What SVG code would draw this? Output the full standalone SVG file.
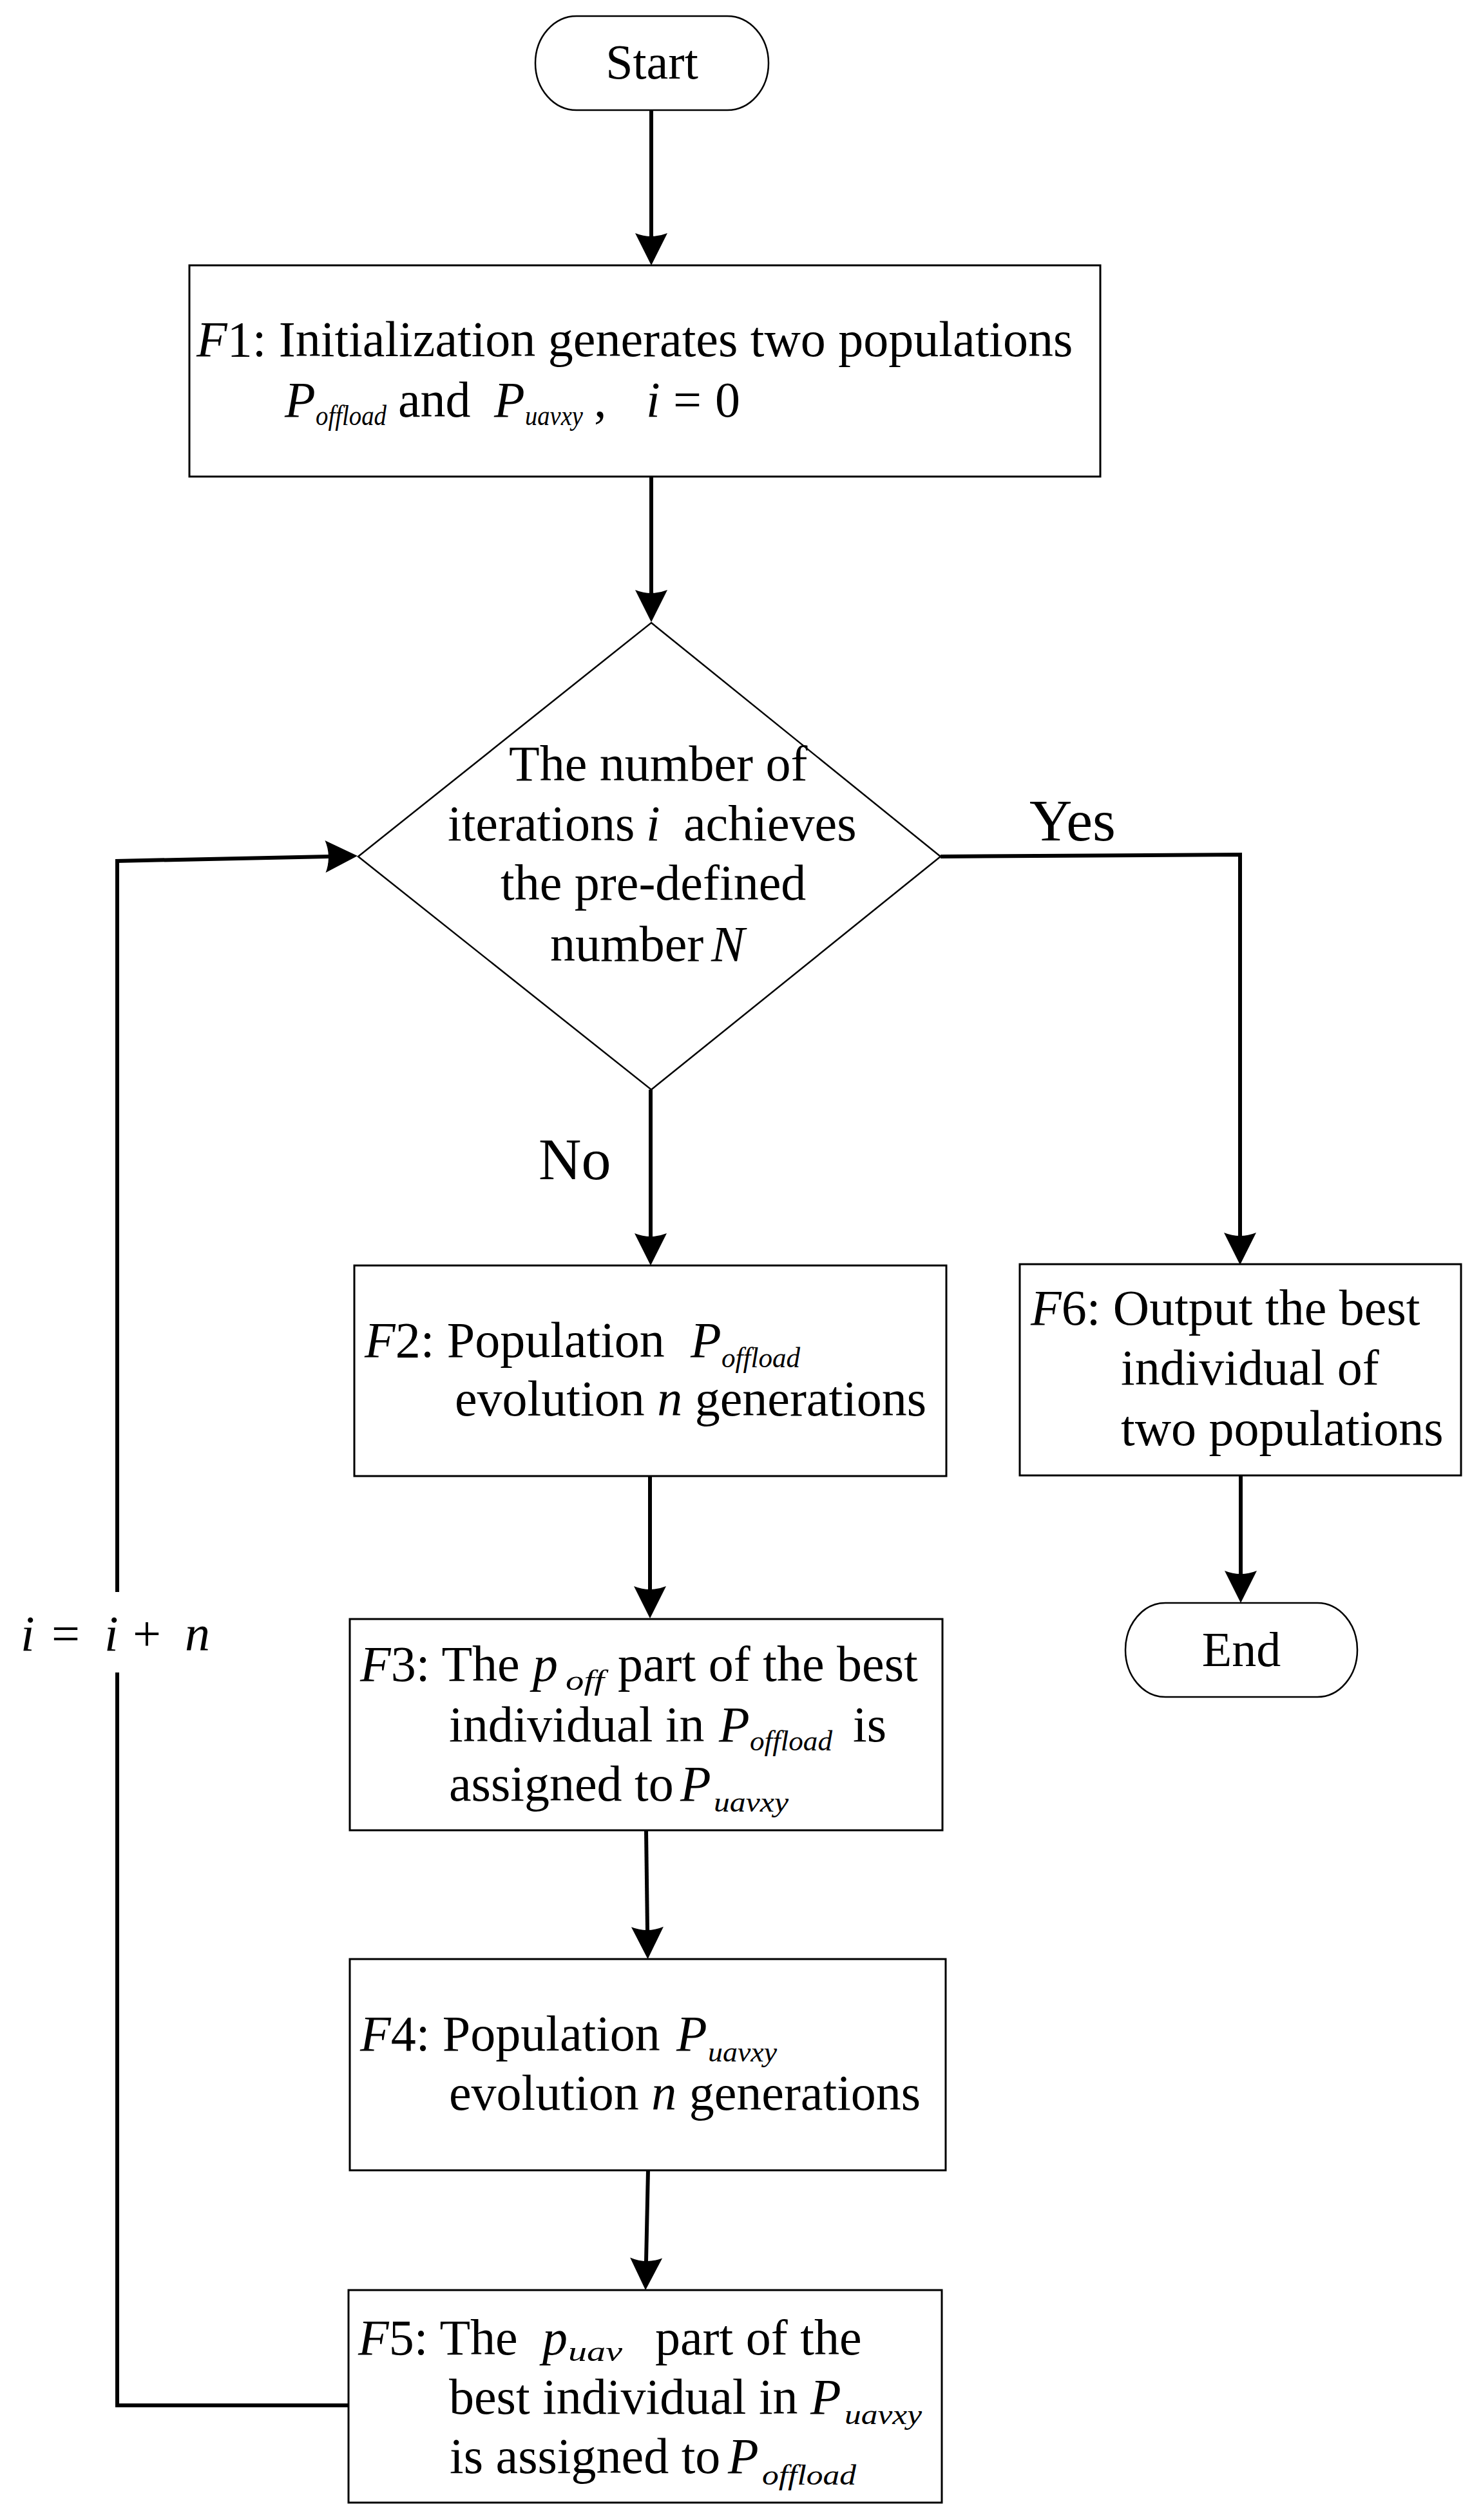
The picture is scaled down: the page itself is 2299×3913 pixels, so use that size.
<svg xmlns="http://www.w3.org/2000/svg" width="2299" height="3913" viewBox="0 0 2299 3913">
<defs>
<style>
text{font-family:"Liberation Serif","Times New Roman",serif;font-size:78px;fill:#000}
.it{font-style:italic}
.sub{font-style:italic;font-size:44px}
.box{fill:#fff;stroke:#000;stroke-width:3}
.dia{fill:#fff;stroke:#000;stroke-width:2.5}
.conn{fill:none;stroke:#000;stroke-width:6}
.lbl{font-size:92px}
.term{font-size:76px}
</style>
<marker id="ah" markerUnits="userSpaceOnUse" markerWidth="60" markerHeight="60" viewBox="-10 -30 60 60" refX="0" refY="0" orient="auto" overflow="visible">
<path d="M45,0 L-5,-25 Q5,0 -5,25 Z" fill="#000"/>
</marker>
</defs>
<rect width="2299" height="3913" fill="#fff"/>

<g id="connectors">
<line class="conn" x1="1011" y1="170" x2="1011" y2="367" marker-end="url(#ah)"/>
<line class="conn" x1="1011" y1="740" x2="1011" y2="921" marker-end="url(#ah)"/>
<line class="conn" x1="1010" y1="1692" x2="1010" y2="1920" marker-end="url(#ah)"/>
<path class="conn" d="M1460,1330 L1925,1327 L1925,1919" marker-end="url(#ah)"/>
<line class="conn" x1="1009" y1="2292" x2="1009" y2="2468" marker-end="url(#ah)"/>
<line class="conn" x1="1003" y1="2842" x2="1005" y2="2997" marker-end="url(#ah)"/>
<line class="conn" x1="1006" y1="3370" x2="1003" y2="3511" marker-end="url(#ah)"/>
<line class="conn" x1="1926" y1="2291" x2="1926" y2="2444" marker-end="url(#ah)"/>
<path class="conn" d="M541,3735 L182,3735 L182,2597"/>
<path class="conn" d="M182,2472 L182,1337"/>
<path class="conn" d="M179,1337 L510,1330" marker-end="url(#ah)"/>
<text class="lbl" x="1598" y="1305">Yes</text>
<text class="lbl" x="836" y="1831">No</text>
<g id="loop-label">
<text class="it" x="32" y="2563" font-size="106">i</text>
<text x="80" y="2563" font-size="106">=</text>
<text class="it" x="162" y="2563" font-size="106">i</text>
<text x="206" y="2563" font-size="106">+</text>
<text class="it" x="287" y="2563" font-size="106">n</text>
</g>
</g>

<g id="start">
<rect class="dia" x="831" y="25" width="362" height="146" rx="64" ry="73"/>
<text class="term" x="1012" y="122" text-anchor="middle">Start</text>
</g>

<g id="F1">
<rect class="box" x="294" y="412" width="1414" height="328"/>
<text x="305" y="553"><tspan class="it">F</tspan>1: Initialization generates two populations</text>
<text class="it" x="442" y="647">P</text>
<text class="sub" x="490" y="660" font-size="42" textLength="110" lengthAdjust="spacingAndGlyphs">offload</text>
<text x="618" y="647">and</text>
<text class="it" x="767" y="647">P</text>
<text class="sub" x="815" y="660" font-size="42" textLength="90" lengthAdjust="spacingAndGlyphs">uavxy</text>
<text x="922" y="647">,</text>
<text class="it" x="1003" y="647">i</text>
<text x="1045" y="647">=</text>
<text x="1110" y="647">0</text>
</g>

<g id="decision">
<path class="dia" d="M1011,967 L1460,1330 L1011,1692 L556,1330 Z"/>
<text x="790" y="1212">The number of</text>
<text x="695" y="1305">iterations</text>
<text class="it" x="1003" y="1305">i</text>
<text x="1061" y="1305">achieves</text>
<text x="777" y="1397">the pre-defined</text>
<text x="854" y="1492">number</text>
<text class="it" x="1104" y="1492">N</text>
</g>

<g id="F2">
<rect class="box" x="550" y="1965" width="919" height="327"/>
<text x="566" y="2107"><tspan class="it">F</tspan>2: Population</text>
<text class="it" x="1072" y="2107">P</text>
<text class="sub" x="1120" y="2123" font-size="45" textLength="122" lengthAdjust="spacingAndGlyphs">offload</text>
<text x="706" y="2198">evolution <tspan class="it">n</tspan> generations</text>
</g>

<g id="F6">
<rect class="box" x="1583" y="1963" width="685" height="328"/>
<text x="1600" y="2057"><tspan class="it">F</tspan>6: Output the best</text>
<text x="1740" y="2150">individual of</text>
<text x="1740" y="2244">two populations</text>
</g>

<g id="end">
<rect class="dia" x="1747" y="2489" width="360" height="146" rx="62" ry="73"/>
<text class="term" x="1927" y="2587" text-anchor="middle">End</text>
</g>

<g id="F3">
<rect class="box" x="543" y="2514" width="920" height="328"/>
<text x="559" y="2610"><tspan class="it">F</tspan>3: The</text>
<text class="it" x="827" y="2610">p</text>
<text class="sub" x="878" y="2624" font-size="50" textLength="60" lengthAdjust="spacingAndGlyphs">off</text>
<text x="959" y="2610">part of the best</text>
<text x="697" y="2704">individual in</text>
<text class="it" x="1116" y="2704">P</text>
<text class="sub" x="1164" y="2718" font-size="46" textLength="128" lengthAdjust="spacingAndGlyphs">offload</text>
<text x="1324" y="2704">is</text>
<text x="697" y="2796">assigned to</text>
<text class="it" x="1056" y="2796" font-size="84">P</text>
<text class="sub" x="1108" y="2813" font-size="50" textLength="116" lengthAdjust="spacingAndGlyphs">uavxy</text>
</g>

<g id="F4">
<rect class="box" x="543" y="3042" width="925" height="328"/>
<text x="559" y="3184"><tspan class="it">F</tspan>4: Population</text>
<text class="it" x="1050" y="3184">P</text>
<text class="sub" x="1099" y="3201" font-size="48" textLength="107" lengthAdjust="spacingAndGlyphs">uavxy</text>
<text x="697" y="3276">evolution <tspan class="it">n</tspan> generations</text>
</g>

<g id="F5">
<rect class="box" x="541" y="3556" width="921" height="330"/>
<text x="556" y="3656"><tspan class="it">F</tspan>5: The</text>
<text class="it" x="842" y="3656">p</text>
<text class="sub" x="882" y="3666" font-size="54" textLength="84" lengthAdjust="spacingAndGlyphs">uav</text>
<text x="1017" y="3656">part of the</text>
<text x="697" y="3748">best individual in</text>
<text class="it" x="1258" y="3748" font-size="86">P</text>
<text class="sub" x="1311" y="3764" font-size="52" textLength="120" lengthAdjust="spacingAndGlyphs">uavxy</text>
<text x="698" y="3840">is assigned to</text>
<text class="it" x="1130" y="3840" font-size="86">P</text>
<text class="sub" x="1183" y="3858" font-size="52" textLength="146" lengthAdjust="spacingAndGlyphs">offload</text>
</g>
</svg>
